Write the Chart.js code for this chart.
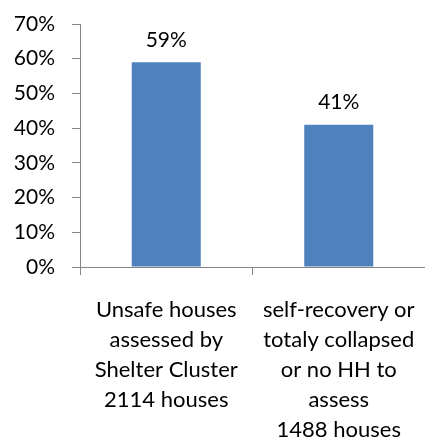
<!DOCTYPE html>
<html>
<head>
<meta charset="utf-8">
<script src="https://cdn.jsdelivr.net/npm/chart.js@4"></script>
<style>
  html, body { margin: 0; padding: 0; background: #fff; }
  #wrap { width: 425px; height: 441px; }
</style>
</head>
<body>
<div id="wrap"><canvas id="c" width="425" height="441"></canvas></div>
<script>
const categories = [
  ["Unsafe houses", "assessed by", "Shelter Cluster", "2114 houses"],
  ["self-recovery or", "totaly collapsed", "or no HH to", "assess", "1488 houses"]
];
const shareValues = [0.59, 0.41];
const dataLabels = ["59%", "41%"];
const yTickMax = 0.7;
const yTickStep = 0.1;

const FONT = "Lato, 'Open Sans', sans-serif";

const valueLabelPlugin = {
  id: 'valueLabels',
  afterDatasetsDraw(chart) {
    const ctx = chart.ctx;
    const meta = chart.getDatasetMeta(0);
    ctx.save();
    ctx.font = "21px " + FONT;
    ctx.fillStyle = "#000";
    ctx.textAlign = "center";
    ctx.textBaseline = "middle";
    meta.data.forEach((bar, i) => {
      ctx.fillText(dataLabels[i], bar.x, bar.y - 22);
    });
    ctx.restore();
  }
};

new Chart(document.getElementById('c'), {
  type: 'bar',
  data: {
    labels: categories,
    datasets: [{
      data: shareValues,
      backgroundColor: '#4F81BD',
      borderWidth: 0,
      barPercentage: 0.4,
      categoryPercentage: 1
    }]
  },
  options: {
    responsive: false,
    animation: false,
    devicePixelRatio: 1,
    layout: { padding: { top: 0, left: 0, right: 0, bottom: 0 } },
    plugins: { legend: { display: false }, tooltip: { enabled: false } },
    scales: {
      y: {
        min: 0,
        max: yTickMax,
        afterFit(scale) { scale.width = 80; scale.paddingTop = 24; scale.paddingBottom = 0; },
        ticks: {
          stepSize: yTickStep,
          color: '#000',
          padding: 17,
          font: { family: FONT, size: 21 },
          callback: v => Math.round(v * 100) + '%'
        },
        grid: { drawOnChartArea: false, drawTicks: true, tickLength: 8, color: '#868686' },
        border: { display: true, color: '#868686', width: 1 }
      },
      x: {
        afterFit(scale) { scale.height = 174; scale.paddingLeft = 0; scale.paddingRight = 0; },
        ticks: {
          color: '#000',
          autoSkip: false,
          maxRotation: 0,
          minRotation: 0,
          padding: 20,
          font: { family: FONT, size: 22, lineHeight: '30px' }
        },
        grid: { drawOnChartArea: false, drawTicks: true, tickLength: 8, offset: true, color: '#868686' },
        border: { display: true, color: '#868686', width: 1 }
      }
    }
  },
  plugins: [valueLabelPlugin]
});
</script>
</body>
</html>
